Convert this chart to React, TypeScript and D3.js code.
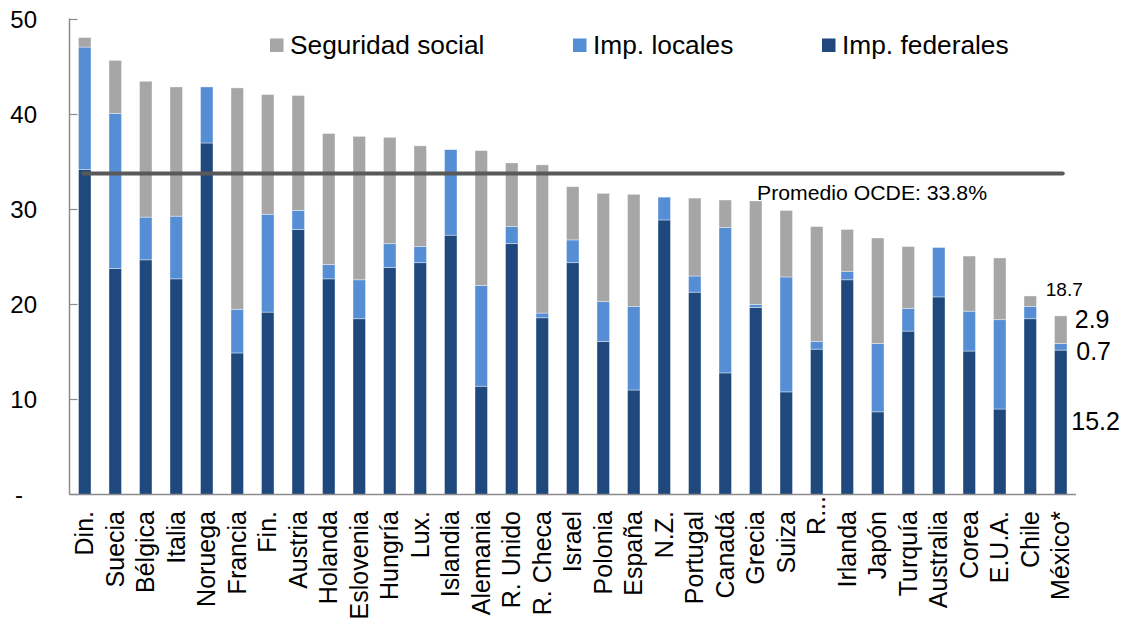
import * as d3 from "d3";
import React from "react";

// Composición de la recaudación tributaria (% del PIB)
const paises = [
  "Din.", "Suecia", "Bélgica", "Italia", "Noruega", "Francia", "Fin.", "Austria",
  "Holanda", "Eslovenia", "Hungría", "Lux.", "Islandia", "Alemania", "R. Unido",
  "R. Checa", "Israel", "Polonia", "España", "N.Z.", "Portugal", "Canadá", "Grecia",
  "Suiza", "R...", "Irlanda", "Japón", "Turquía", "Australia", "Corea", "E.U.A.",
  "Chile", "México*",
];
const federales = [
  34.2, 23.8, 24.7, 22.7, 37.0, 14.9, 19.2, 27.9, 22.7, 18.5, 23.9, 24.4, 27.3,
  11.4, 26.4, 18.6, 24.4, 16.1, 11.0, 28.9, 21.3, 12.8, 19.7, 10.8, 15.3, 22.6,
  8.7, 17.2, 20.8, 15.1, 9.0, 18.5, 15.2,
];
const locales = [
  12.9, 16.3, 4.5, 6.6, 5.9, 4.6, 10.3, 2.0, 1.5, 4.1, 2.5, 1.7, 9.0, 10.6, 1.8,
  0.5, 2.4, 4.2, 8.8, 2.4, 1.7, 15.3, 0.3, 12.1, 0.8, 0.9, 7.2, 2.4, 5.2, 4.2,
  9.4, 1.3, 0.7,
];
const seguridad = [
  1.0, 5.6, 14.3, 13.6, 0.0, 23.3, 12.6, 12.1, 13.8, 15.1, 11.2, 10.6, 0.0, 14.2,
  6.7, 15.6, 5.6, 11.4, 11.8, 0.0, 8.2, 2.9, 10.9, 7.0, 12.1, 4.4, 11.1, 6.5,
  0.0, 5.8, 6.5, 1.1, 2.9,
];
const promedioOCDE = 33.8;
const yTicks = [0, 10, 20, 30, 40, 50];
const seriesKeys = ["fed", "loc", "ss"];
const seriesColors: Record<string, string> = {
  fed: "#1F497D",
  loc: "#558ED5",
  ss: "#A6A6A6",
};
const legendItems = [
  { key: "ss", label: "Seguridad social", x: 270 },
  { key: "loc", label: "Imp. locales", x: 573 },
  { key: "fed", label: "Imp. federales", x: 822 },
];
const mexicoLabels = ["18.7", "2.9", "0.7", "15.2"];

const FONT = "'Liberation Sans', Arial, sans-serif";

export default function App() {
  const width = 1125;
  const height = 625;
  const left = 69.5;
  const right = 1076;
  const top = 19.5;
  const bottom = 494.5;

  const rows = paises.map((p, i) => ({
    pais: p,
    fed: federales[i],
    loc: locales[i],
    ss: seguridad[i],
  }));

  const x = d3.scaleBand<string>().domain(paises).range([left, right]);
  const y = d3.scaleLinear().domain([0, 50]).range([bottom, top]);
  const barW = x.bandwidth() * 0.41;
  const stacked = d3.stack<any>().keys(seriesKeys)(rows);

  const cx = (p: string) => (x(p) as number) + x.bandwidth() / 2;
  const first = paises[0];
  const last = paises[paises.length - 1];
  const mx = cx(last);
  const mexTotal = federales[32] + locales[32] + seguridad[32];

  return (
    <div style={{ position: "absolute", left: 0, top: 0 }}>
      <svg width={width} height={height} style={{ display: "block", background: "#fff" }}>
        {/* barras apiladas */}
        {stacked.map((s) => (
          <g key={s.key} fill={seriesColors[s.key]}>
            {s.map((d, i) =>
              d[1] - d[0] > 0 ? (
                <rect
                  key={i}
                  x={cx(paises[i]) - barW / 2}
                  y={y(d[1])}
                  width={barW}
                  height={y(d[0]) - y(d[1])}
                  stroke="rgba(255,255,255,0.55)"
                  strokeWidth={0.7}
                />
              ) : null
            )}
          </g>
        ))}

        {/* eje y */}
        <line x1={left} x2={left} y1={top - 1} y2={bottom} stroke="#8C8C8C" strokeWidth={1.5} />
        {yTicks.map((t) => (
          <g key={t}>
            <line x1={left} x2={left + 8} y1={y(t)} y2={y(t)} stroke="#8C8C8C" strokeWidth={1.2} />
            <text
              x={t === 0 ? 23 : 37}
              y={y(t) + 8.5}
              textAnchor="end"
              fontFamily={FONT}
              fontSize={24}
              fill="#000"
            >
              {t === 0 ? "-" : t}
            </text>
          </g>
        ))}

        {/* eje x */}
        <line x1={left} x2={right} y1={bottom} y2={bottom} stroke="#8C8C8C" strokeWidth={1.5} />
        {paises.map((p) => (
          <text
            key={p}
            transform={`translate(${cx(p) + 8.5},${p === "R..." ? 496 : 511}) rotate(-90)`}
            textAnchor="end"
            fontFamily={FONT}
            fontSize={25}
            fill="#000"
          >
            {p}
          </text>
        ))}

        {/* promedio OCDE */}
        <line
          x1={cx(first) - 1.5}
          x2={mx + 2}
          y1={y(promedioOCDE)}
          y2={y(promedioOCDE)}
          stroke="#595959"
          strokeWidth={4}
          strokeLinecap="round"
        />
        <text x={757} y={y(promedioOCDE) + 27} fontFamily={FONT} fontSize={19.5} textLength={230} lengthAdjust="spacingAndGlyphs" fill="#000">
          Promedio OCDE: 33.8%
        </text>

        {/* leyenda */}
        {legendItems.map((l) => (
          <g key={l.key}>
            <rect x={l.x} y={38.5} width={13.5} height={13.5} fill={seriesColors[l.key]} />
            <text x={l.x + 20} y={53.5} fontFamily={FONT} fontSize={26.3} fill="#000">
              {l.label}
            </text>
          </g>
        ))}

        {/* etiquetas México */}
        <text x={mx - 15} y={y(mexTotal) - 20} fontFamily={FONT} fontSize={19} fill="#000">
          {mexicoLabels[0]}
        </text>
        <text x={mx + 14} y={y(mexTotal) + 12.5} fontFamily={FONT} fontSize={25} fill="#000">
          {mexicoLabels[1]}
        </text>
        <text x={mx + 15.5} y={y(federales[32] + locales[32]) + 17} fontFamily={FONT} fontSize={25} fill="#000">
          {mexicoLabels[2]}
        </text>
        <text x={mx + 10.5} y={y(federales[32] / 2) + 8} fontFamily={FONT} fontSize={25} fill="#000">
          {mexicoLabels[3]}
        </text>
      </svg>
    </div>
  );
}
